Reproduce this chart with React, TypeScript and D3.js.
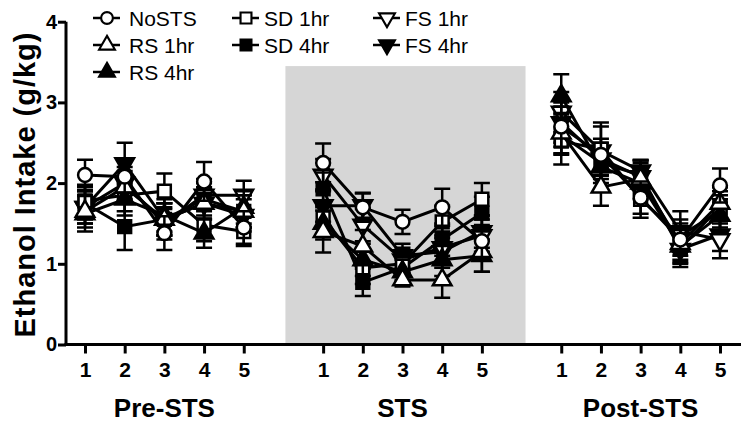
import React, { useRef, useEffect } from "react";
import * as d3 from "d3";

// sessions within each phase, and the phases along the x axis
const sessions = ["1", "2", "3", "4", "5"];
const phases = ["Pre-STS", "STS", "Post-STS"];
// slot on the x scale for each of the 15 points (one empty slot between phases)
const slots = [0, 1, 2, 3, 4, 6, 7, 8, 9, 10, 12, 13, 14, 15, 16];
const yTicks = [0, 1, 2, 3, 4];

// means, Pre-STS (5) | STS (5) | Post-STS (5)
const noSTS = [2.1, 2.08, 1.38, 2.02, 1.45, 2.25, 1.7, 1.52, 1.7, 1.28, 2.7, 2.35, 1.82, 1.3, 1.97];
const rs1 = [1.65, 1.95, 1.55, 1.75, 1.65, 1.4, 1.22, 0.8, 0.8, 1.15, 2.62, 1.95, 2.05, 1.25, 1.75];
const rs4 = [1.62, 1.8, 1.6, 1.38, 1.7, 1.5, 1.05, 0.9, 1.05, 1.1, 3.08, 2.2, 2.0, 1.22, 1.6];
const sd1 = [1.78, 1.85, 1.9, 1.48, 1.4, 1.57, 0.95, 1.0, 1.52, 1.8, 2.52, 2.42, 1.8, 1.35, 1.65];
const sd4 = [1.75, 1.46, 1.55, 1.8, 1.65, 1.93, 0.77, 0.95, 1.3, 1.63, 2.6, 2.25, 2.1, 1.2, 1.7];
const fs1 = [1.7, 2.0, 1.5, 1.85, 1.85, 2.1, 1.48, 1.05, 1.2, 1.35, 2.88, 2.4, 2.15, 1.4, 1.3];
const fs4 = [1.7, 2.24, 1.55, 1.75, 1.6, 1.72, 1.72, 1.1, 1.15, 1.4, 2.75, 2.3, 2.08, 1.18, 1.36];

// SEM
const noSTSErr = [0.19, 0.2, 0.21, 0.24, 0.2, 0.24, 0.18, 0.15, 0.23, 0.2, 0.25, 0.2, 0.2, 0.2, 0.21];
const rs1Err = [0.2, 0.2, 0.2, 0.2, 0.2, 0.26, 0.2, 0.08, 0.22, 0.25, 0.25, 0.23, 0.2, 0.2, 0.2];
const rs4Err = [0.22, 0.2, 0.2, 0.18, 0.2, 0.2, 0.2, 0.15, 0.2, 0.2, 0.27, 0.2, 0.2, 0.2, 0.2];
const sd1Err = [0.2, 0.2, 0.22, 0.2, 0.18, 0.2, 0.2, 0.15, 0.2, 0.2, 0.29, 0.33, 0.23, 0.2, 0.2];
const sd4Err = [0.2, 0.29, 0.2, 0.2, 0.2, 0.2, 0.17, 0.15, 0.2, 0.2, 0.25, 0.2, 0.18, 0.2, 0.2];
const fs1Err = [0.2, 0.2, 0.2, 0.2, 0.18, 0.2, 0.2, 0.15, 0.2, 0.2, 0.25, 0.3, 0.14, 0.25, 0.23];
const fs4Err = [0.2, 0.26, 0.2, 0.2, 0.2, 0.2, 0.15, 0.15, 0.2, 0.2, 0.25, 0.2, 0.2, 0.22, 0.2];

const series = [
  { name: "NoSTS", shape: "circle", filled: false, values: noSTS, err: noSTSErr },
  { name: "RS 1hr", shape: "up", filled: false, values: rs1, err: rs1Err },
  { name: "RS 4hr", shape: "up", filled: true, values: rs4, err: rs4Err },
  { name: "SD 1hr", shape: "square", filled: false, values: sd1, err: sd1Err },
  { name: "SD 4hr", shape: "square", filled: true, values: sd4, err: sd4Err },
  { name: "FS 1hr", shape: "down", filled: false, values: fs1, err: fs1Err },
  { name: "FS 4hr", shape: "down", filled: true, values: fs4, err: fs4Err },
];

// legend layout: [column, row]
const legendPos = [[0, 0], [0, 1], [0, 2], [1, 0], [1, 1], [2, 0], [2, 1]];

const FONT = "'Liberation Sans', Arial, Helvetica, sans-serif";

const symbolPath = (shape) => {
  if (shape === "circle") return d3.symbol(d3.symbolCircle, 150)();
  if (shape === "square") return d3.symbol(d3.symbolSquare, 165)();
  return d3.symbol(d3.symbolTriangle, 150)();
};

const App = () => {
  const svgRef = useRef();

  useEffect(() => {
    const width = 749;
    const height = 426;
    const svg = d3.select(svgRef.current).attr("width", width).attr("height", height);
    svg.selectAll("*").remove();

    const x = d3.scaleLinear().domain([0, 16]).range([85, 720]);
    const y = d3.scaleLinear().domain([0, 4]).range([344.5, 21.7]);

    // grey band behind the STS phase
    svg.append("rect")
      .attr("x", x(5.05))
      .attr("y", y(3.45))
      .attr("width", x(11.1) - x(5.05))
      .attr("height", y(0) - y(3.45))
      .attr("fill", "#d6d6d6");

    // y axis
    const yAxis = svg.append("g").attr("transform", `translate(66,0)`)
      .call(d3.axisLeft(y).tickValues(yTicks).tickFormat(d3.format("d")).tickSize(8).tickPadding(1));
    yAxis.select(".domain").attr("stroke-width", 3).attr("d", `M0,${y(0) + 1.5}V${y(4)}`);
    yAxis.selectAll(".tick line").attr("stroke-width", 3);
    yAxis.selectAll(".tick text")
      .attr("font-family", FONT).attr("font-weight", "bold").attr("font-size", 20).attr("fill", "#000");

    // x axis
    const xAxis = svg.append("g").attr("transform", `translate(0,${y(0)})`)
      .call(d3.axisBottom(x).tickValues(slots).tickFormat((d, i) => sessions[i % 5]).tickSize(9).tickPadding(9));
    xAxis.select(".domain").attr("stroke-width", 3).attr("d", `M64.5,0H741`);
    xAxis.selectAll(".tick line").attr("stroke-width", 3);
    xAxis.selectAll(".tick text")
      .attr("font-family", FONT).attr("font-weight", "bold").attr("font-size", 21).attr("fill", "#000");

    // phase labels
    phases.forEach((p, i) => {
      svg.append("text")
        .attr("x", x(i * 6 + 2))
        .attr("y", 417)
        .attr("text-anchor", "middle")
        .attr("font-family", FONT)
        .attr("font-weight", "bold")
        .attr("font-size", 26)
        .text(p);
    });

    // y title
    svg.append("text")
      .attr("transform", `translate(35,185) rotate(-90)`)
      .attr("text-anchor", "middle")
      .attr("font-family", FONT)
      .attr("font-weight", "bold")
      .attr("font-size", 29)
      .attr("textLength", 305)
      .attr("lengthAdjust", "spacing")
      .text("Ethanol Intake (g/kg)");

    const line = d3.line().x((d) => x(d.s)).y((d) => y(d.v));

    // draw last series first so NoSTS ends up on top
    [...series].reverse().forEach((ser) => {
      const g = svg.append("g");
      const pts = ser.values.map((v, i) => ({ s: slots[i], v, e: ser.err[i] }));

      // error bars
      pts.forEach((d) => {
        const cx = x(d.s);
        g.append("path")
          .attr("d", `M${cx},${y(d.v + d.e)}V${y(d.v - d.e)}M${cx - 8},${y(d.v + d.e)}H${cx + 8}M${cx - 8},${y(d.v - d.e)}H${cx + 8}`)
          .attr("stroke", "#000")
          .attr("stroke-width", 2.5)
          .attr("fill", "none");
      });

      // one line per phase
      d3.range(3).forEach((p) => {
        g.append("path")
          .datum(pts.slice(p * 5, p * 5 + 5))
          .attr("d", line)
          .attr("fill", "none")
          .attr("stroke", "#000")
          .attr("stroke-width", 3);
      });

      // symbols
      g.selectAll(".sym")
        .data(pts)
        .join("path")
        .attr("d", symbolPath(ser.shape))
        .attr("transform", (d) => `translate(${x(d.s)},${y(d.v)})${ser.shape === "down" ? " rotate(180)" : ""}`)
        .attr("fill", ser.filled ? "#000" : "#fff")
        .attr("stroke", "#000")
        .attr("stroke-width", 2.5);
    });

    // legend
    const colX = [107, 246, 387];
    const rowY = [18, 45, 72];
    const textX = [129, 264, 405];
    series.forEach((ser, i) => {
      const [c, r] = legendPos[i];
      const lg = svg.append("g");
      lg.append("line")
        .attr("x1", colX[c] - 14).attr("x2", colX[c] + 13)
        .attr("y1", rowY[r]).attr("y2", rowY[r])
        .attr("stroke", "#000").attr("stroke-width", 2.5);
      lg.append("path")
        .attr("d", symbolPath(ser.shape))
        .attr("transform", `translate(${colX[c]},${rowY[r]})${ser.shape === "down" ? " rotate(180)" : ""} scale(0.85)`)
        .attr("fill", ser.filled ? "#000" : "#fff")
        .attr("stroke", "#000")
        .attr("stroke-width", 2.5);
      lg.append("text")
        .attr("x", textX[c])
        .attr("y", rowY[r])
        .attr("dy", "0.36em")
        .attr("font-family", FONT)
        .attr("font-size", 21)
        .text(ser.name);
    });
  }, []);

  return (
    <div style={{ position: "absolute", left: 0, top: 0 }}>
      <svg ref={svgRef} style={{ display: "block" }} />
    </div>
  );
};

export default App;
